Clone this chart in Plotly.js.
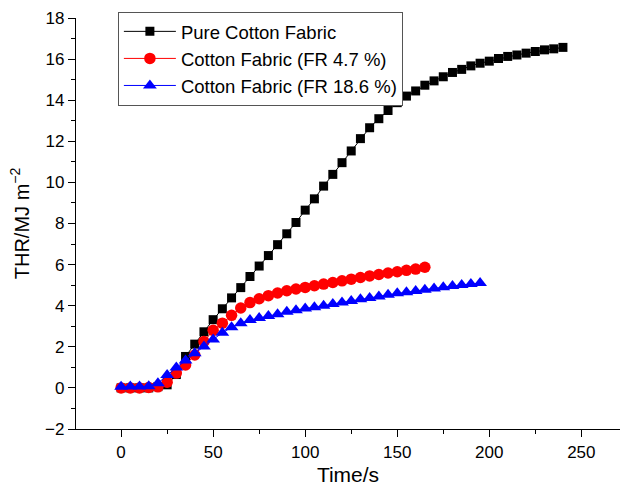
<!DOCTYPE html>
<html>
<head>
<meta charset="utf-8">
<script src="https://cdn.plot.ly/plotly-3.0.1.min.js"></script>
<style>html,body{margin:0;padding:0;background:#fff;}#chart{width:620px;height:486px;}</style>
</head>
<body>
<div id="chart"></div>
<script>
// Pure Cotton Fabric
const timePure = [0,5,10,15,20,25,30,35,40,45,50,55,60,65,70,75,80,85,90,95,100,105,110,115,120,125,130,135,140,145,150,155,160,165,170,175,180,185,190,195,200,205,210,215,220,225,230,235,240];
const thrPure = [0,0,0,0,0.06,0.15,0.65,1.53,2.13,2.73,3.32,3.85,4.38,4.88,5.42,5.93,6.44,6.97,7.5,8.05,8.65,9.2,9.82,10.39,10.96,11.53,12.13,12.66,13.1,13.5,13.88,14.2,14.45,14.73,14.94,15.14,15.35,15.5,15.67,15.8,15.9,16.03,16.13,16.2,16.29,16.37,16.45,16.5,16.57];

// Cotton Fabric (FR 4.7 %)
const timeFR47 = [0,5,10,15,20,25,30,35,40,45,50,55,60,65,70,75,80,85,90,95,100,105,110,115,120,125,130,135,140,145,150,155,160,165];
const thrFR47 = [0,0,0,0.02,0.05,0.28,0.72,1.12,1.6,2.26,2.8,3.15,3.53,3.89,4.15,4.34,4.49,4.62,4.73,4.81,4.89,4.97,5.05,5.13,5.21,5.29,5.37,5.45,5.52,5.59,5.65,5.72,5.78,5.87];

// Cotton Fabric (FR 18.6 %)
const timeFR186 = [0,5,10,15,20,25,30,35,40,45,50,55,60,65,70,75,80,85,90,95,100,105,110,115,120,125,130,135,140,145,150,155,160,165,170,175,180,185,190,195];
const thrFR186 = [0.05,0.07,0.07,0.08,0.23,0.63,0.99,1.33,1.69,2.02,2.36,2.68,2.95,3.15,3.3,3.4,3.5,3.58,3.7,3.78,3.86,3.93,4.0,4.08,4.15,4.23,4.31,4.38,4.45,4.53,4.6,4.66,4.72,4.78,4.84,4.9,4.96,5.01,5.06,5.1];

const seriesNames = ['Pure Cotton Fabric', 'Cotton Fabric (FR 4.7 %)', 'Cotton Fabric (FR 18.6 %)'];
const xTitle = 'Time/s';
const yTitle = 'THR/MJ m<sup>\u22122</sup>';

const FONT = 'Liberation Sans, Arial, Helvetica, sans-serif';

const traces = [
  {x: timePure, y: thrPure, name: seriesNames[0], mode: 'lines+markers', type: 'scatter',
   line: {color: '#000000', width: 1}, marker: {symbol: 'square', size: 9, color: '#000000'}},
  {x: timeFR47, y: thrFR47, name: seriesNames[1], mode: 'lines+markers', type: 'scatter',
   line: {color: '#ff0000', width: 1}, marker: {symbol: 'circle', size: 11.5, color: '#ff0000'}},
  {x: timeFR186, y: thrFR186, name: seriesNames[2], mode: 'lines+markers', type: 'scatter',
   line: {color: '#0000ff', width: 1}, marker: {symbol: 'triangle-up', size: 12, color: '#0000ff'}}
];

const layout = {
  width: 620, height: 486,
  margin: {l: 76, r: 0, t: 18, b: 57, pad: 0},
  paper_bgcolor: '#ffffff', plot_bgcolor: '#ffffff',
  font: {family: FONT, color: '#000000', size: 16},
  showlegend: true,
  legend: {
    x: 0.077, y: 1.015, xanchor: 'left', yanchor: 'top',
    bgcolor: '#ffffff', bordercolor: '#555555', borderwidth: 1,
    font: {family: FONT, size: 18.5, color: '#000000'},
    itemwidth: 52, tracegroupgap: 0
  },
  xaxis: {
    range: [-24.5, 271], autorange: false,
    showgrid: false, zeroline: false,
    showline: true, linecolor: '#000000', linewidth: 1.2,
    ticks: 'outside', ticklen: 7, tickwidth: 1, tickcolor: '#000000',
    tick0: 0, dtick: 50,
    minor: {ticks: 'outside', ticklen: 4, tickwidth: 1, tickcolor: '#000000', dtick: 25, tick0: 0, showgrid: false},
    tickfont: {family: FONT, size: 17},
    title: {text: xTitle, font: {family: FONT, size: 21}, standoff: 8}
  },
  yaxis: {
    range: [-2, 18], autorange: false,
    showgrid: false, zeroline: false,
    showline: true, linecolor: '#000000', linewidth: 1.2,
    ticks: 'outside', ticklen: 7, tickwidth: 1, tickcolor: '#000000',
    tick0: 0, dtick: 2,
    minor: {ticks: 'outside', ticklen: 4, tickwidth: 1, tickcolor: '#000000', dtick: 1, tick0: 0, showgrid: false},
    tickfont: {family: FONT, size: 17},
    title: {text: yTitle, font: {family: FONT, size: 20}, standoff: 10}
  }
};

Plotly.newPlot('chart', traces, layout, {displayModeBar: false, staticPlot: true});
</script>
</body>
</html>
